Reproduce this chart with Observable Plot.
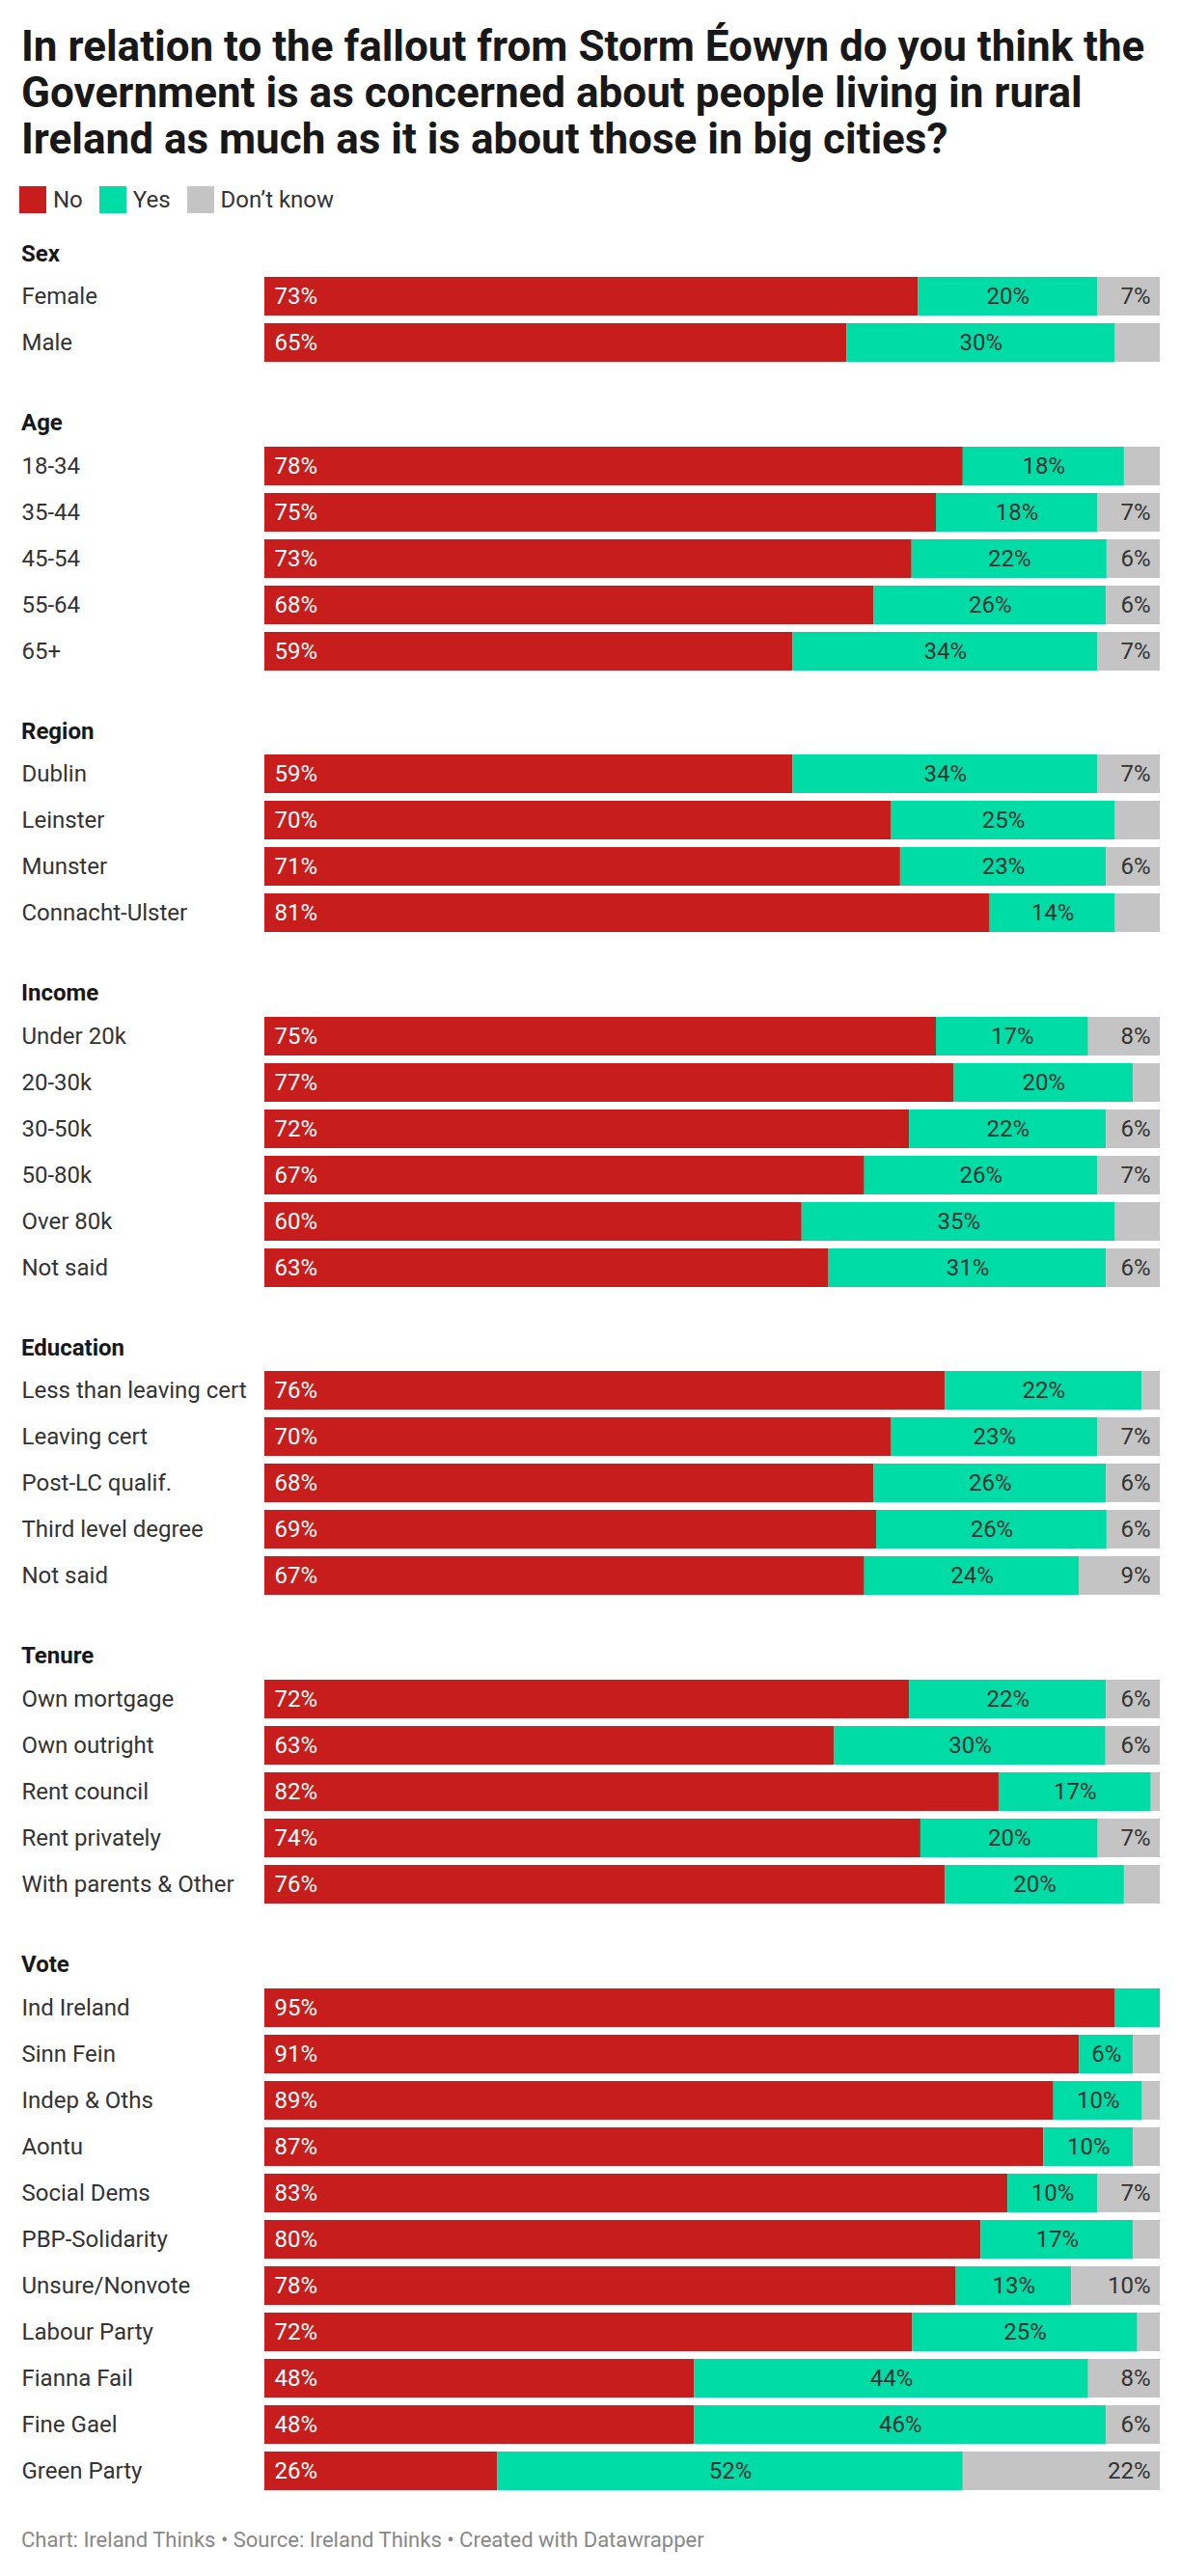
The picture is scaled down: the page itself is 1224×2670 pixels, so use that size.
<!DOCTYPE html>
<html>
<head>
<meta charset="utf-8">
<script src="https://cdn.jsdelivr.net/npm/d3@7"></script>
<script src="https://cdn.jsdelivr.net/npm/@observablehq/plot@0.6"></script>
<style>
  html, body { margin: 0; padding: 0; background: #fff; }
  body { font-family: Roboto, "Noto Sans", sans-serif; color: #333; width: 1224px; }
  #title { margin: 0; padding: 24px 22px 0 22px; font-weight: 700; font-size: 44px; line-height: 48px; color: #181818; }
  #legend { margin: 25px 22px 0 20px; height: 28px; display: flex; align-items: center; font-size: 24px; color: #333; }
  #legend .item { display: flex; align-items: center; margin-right: 17px; }
  #legend .sw { width: 28px; height: 28px; margin-right: 7px; }
  .sec { margin-top: 48px; }
  .sec:first-child { margin-top: 26.5px; }
  .hdr { margin: 0 22px; font-weight: 700; font-size: 24px; line-height: 30px; height: 30px; padding-bottom: 9.6px; color: #181818; }
  .sec svg { display: block; }
  #footer { margin: 39px 22px 0 22px; font-size: 22px; line-height: 26px; color: #888; }
</style>
</head>
<body>
<div id="title">In relation to the fallout from Storm Éowyn do you think the<br>Government is as concerned about people living in rural<br>Ireland as much as it is about those in big cities?</div>
<div id="legend"></div>
<div id="sections"></div>
<div id="footer">Chart: Ireland Thinks • Source: Ireland Thinks • Created with Datawrapper</div>
<script>
// ---- data ----
const answers = ["No", "Yes", "Don’t know"];
const answerColors = ["#c71e1d", "#00dca6", "#c4c4c4"];
const groups = ["Sex", "Age", "Region", "Income", "Education", "Tenure", "Vote"];

const categories = [
  "Female", "Male",
  "18-34", "35-44", "45-54", "55-64", "65+",
  "Dublin", "Leinster", "Munster", "Connacht-Ulster",
  "Under 20k", "20-30k", "30-50k", "50-80k", "Over 80k", "Not said",
  "Less than leaving cert", "Leaving cert", "Post-LC qualif.", "Third level degree", "Not said ",
  "Own mortgage", "Own outright", "Rent council", "Rent privately", "With parents & Other",
  "Ind Ireland", "Sinn Fein", "Indep & Oths", "Aontu", "Social Dems", "PBP-Solidarity",
  "Unsure/Nonvote", "Labour Party", "Fianna Fail", "Fine Gael", "Green Party"
];
const categoryGroup = [
  "Sex", "Sex",
  "Age", "Age", "Age", "Age", "Age",
  "Region", "Region", "Region", "Region",
  "Income", "Income", "Income", "Income", "Income", "Income",
  "Education", "Education", "Education", "Education", "Education",
  "Tenure", "Tenure", "Tenure", "Tenure", "Tenure",
  "Vote", "Vote", "Vote", "Vote", "Vote", "Vote", "Vote", "Vote", "Vote", "Vote", "Vote"
];
const noValues = [
  73, 65,
  78, 75, 73, 68, 59,
  59, 70, 71, 81,
  75, 77, 72, 67, 60, 63,
  76, 70, 68, 69, 67,
  72, 63, 82, 74, 76,
  95, 91, 89, 87, 83, 80, 78, 72, 48, 48, 26
];
const yesValues = [
  20, 30,
  18, 18, 22, 26, 34,
  34, 25, 23, 14,
  17, 20, 22, 26, 35, 31,
  22, 23, 26, 26, 24,
  22, 30, 17, 20, 20,
  5, 6, 10, 10, 10, 17, 13, 25, 44, 46, 52
];
const dontKnowValues = [
  7, 5,
  4, 7, 6, 6, 7,
  7, 5, 6, 5,
  8, 3, 6, 7, 5, 6,
  2, 7, 6, 6, 9,
  6, 6, 1, 7, 4,
  0, 3, 2, 3, 7, 3, 10, 2.5, 8, 6, 22
];
const labelThreshold = 6;

// ---- legend ----
const legend = document.getElementById("legend");
answers.forEach((a, i) => {
  const item = document.createElement("div");
  item.className = "item";
  const sw = document.createElement("div");
  sw.className = "sw";
  sw.style.background = answerColors[i];
  const t = document.createElement("span");
  t.textContent = a;
  item.appendChild(sw); item.appendChild(t);
  legend.appendChild(item);
});

// ---- long table ----
const rows = [];
categories.forEach((c, i) => {
  const vals = [noValues[i], yesValues[i], dontKnowValues[i]];
  answers.forEach((a, j) => rows.push({group: categoryGroup[i], category: c, answer: a, value: vals[j]}));
});

const container = document.getElementById("sections");
const fmt = v => v + "%";

groups.forEach(g => {
  const cats = categories.filter((c, i) => categoryGroup[i] === g);
  const data = rows.filter(r => r.group === g);
  const n = cats.length;
  const sec = document.createElement("div");
  sec.className = "sec";
  const hdr = document.createElement("div");
  hdr.className = "hdr";
  hdr.textContent = g;
  sec.appendChild(hdr);

  const stackOpts = {x: "value", y: "category", z: "answer", offset: "normalize"};
  const chart = Plot.plot({
    width: 1224,
    height: 48 * n - 8,
    marginLeft: 274,
    marginRight: 22,
    marginTop: 0,
    marginBottom: 0,
    style: {fontFamily: "Roboto, 'Noto Sans', sans-serif", fontSize: "24px", background: "transparent"},
    x: {axis: null, domain: [0, 1]},
    y: {domain: cats, paddingInner: 1 / 6, paddingOuter: 0, axis: null},
    color: {domain: answers, range: answerColors},
    marks: [
      Plot.barX(data, Plot.stackX({...stackOpts, fill: "answer"})),
      Plot.text(data, Plot.stackX1({...stackOpts,
        text: d => d.answer === "No" ? fmt(d.value) : "",
        textAnchor: "start", dx: 10, fill: "#fff", fontSize: 24})),
      Plot.text(data, Plot.stackX({...stackOpts,
        text: d => d.answer === "Yes" && d.value >= labelThreshold ? fmt(d.value) : "",
        textAnchor: "middle", fill: "#333", fontSize: 24})),
      Plot.text(data, Plot.stackX2({...stackOpts,
        text: d => d.answer === "Don’t know" && d.value >= labelThreshold ? fmt(d.value) : "",
        textAnchor: "end", dx: -10, fill: "#333", fontSize: 24})),
      Plot.axisY({tickSize: 0, tickPadding: 0, textAnchor: "start", dx: -252, fontSize: 24, fill: "#333", label: null})
    ]
  });
  sec.appendChild(chart);
  container.appendChild(sec);
});
</script>
</body>
</html>
